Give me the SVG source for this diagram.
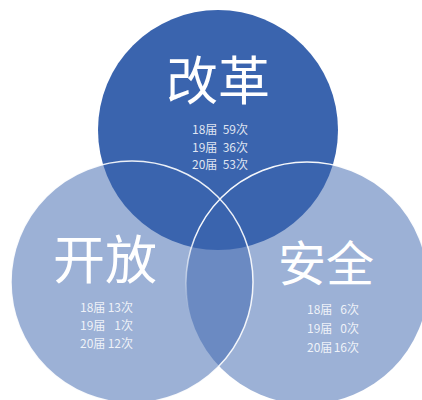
<svg xmlns="http://www.w3.org/2000/svg" width="422" height="400" viewBox="0 0 422 400">
<defs>
<linearGradient id="fadeR" x1="0" y1="0" x2="0" y2="1">
<stop offset="0.3" stop-color="#fff" stop-opacity="0.95"/>
<stop offset="0.62" stop-color="#fff" stop-opacity="0"/>
</linearGradient>
<style>
.light{fill:#3A64AE;fill-opacity:0.5}
.dark{fill:#3A64AE}
.big{font-family:"Noto Sans CJK SC","Noto Sans",sans-serif;fill:#fff;text-anchor:middle}
.small{font-family:"Noto Sans CJK SC","Noto Sans",sans-serif;font-size:12px;fill:#fff;fill-opacity:0.85}
.edge{fill:none;stroke-width:1.5}
</style>
</defs>
<rect width="422" height="400" fill="#fff"/>
<g id="open">
<circle class="light" cx="132" cy="282" r="121"/>
<text class="big" x="105" y="279" font-size="52">开放</text>
<text class="small"><tspan x="80" y="312">18届</tspan><tspan x="133" y="312" text-anchor="end">13次</tspan></text>
<text class="small"><tspan x="80" y="330">19届</tspan><tspan x="133" y="330" text-anchor="end">1次</tspan></text>
<text class="small"><tspan x="80" y="348">20届</tspan><tspan x="133" y="348" text-anchor="end">12次</tspan></text>
</g>
<g id="security">
<circle class="light" cx="307" cy="283" r="121"/>
<text class="big" x="326" y="281" font-size="48">安全</text>
<text class="small"><tspan x="307" y="314">18届</tspan><tspan x="359" y="314" text-anchor="end">6次</tspan></text>
<text class="small"><tspan x="307" y="333">19届</tspan><tspan x="359" y="333" text-anchor="end">0次</tspan></text>
<text class="small"><tspan x="307" y="352">20届</tspan><tspan x="359" y="352" text-anchor="end">16次</tspan></text>
</g>
<g id="reform">
<circle class="dark" cx="218" cy="130" r="120"/>
<text class="big" x="218" y="100" font-size="52">改革</text>
<text class="small"><tspan x="192" y="134">18届</tspan><tspan x="248" y="134" text-anchor="end">59次</tspan></text>
<text class="small"><tspan x="192" y="152">19届</tspan><tspan x="248" y="152" text-anchor="end">36次</tspan></text>
<text class="small"><tspan x="192" y="169">20届</tspan><tspan x="248" y="169" text-anchor="end">53次</tspan></text>
</g>
<g id="outlines">
<circle class="edge" cx="132" cy="282" r="121" stroke="#fff" stroke-opacity="0.9"/>
<circle class="edge" cx="307" cy="283" r="121" stroke="url(#fadeR)"/>
</g>
</svg>
